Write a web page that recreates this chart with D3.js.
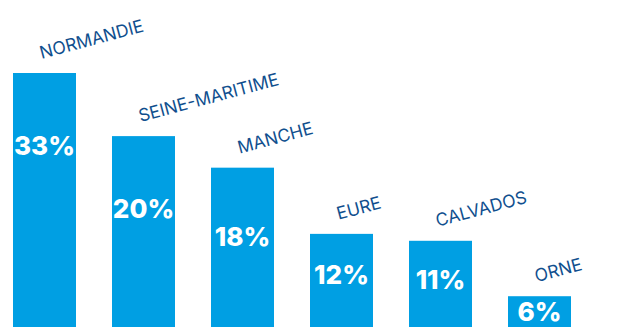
<!DOCTYPE html>
<html>
<head>
<meta charset="utf-8">
<script src="https://cdn.jsdelivr.net/npm/d3@7"></script>
<style>
  html, body { margin: 0; padding: 0; background: #fff; }
  svg { display: block; }
</style>
</head>
<body>
<svg id="chart" width="623" height="327"></svg>
<script>
// Data
const categories = ["NORMANDIE", "SEINE-MARITIME", "MANCHE", "EURE", "CALVADOS", "ORNE"];
const shareLabels = ["33%", "20%", "18%", "12%", "11%", "6%"];
// bar lengths as drawn in the reference (percent-equivalent units)
const barValues = [33, 24.8, 20.7, 12.1, 11.2, 4.0];

const W = 623, H = 327;
const svg = d3.select("#chart");

const x = d3.scaleBand()
  .domain(categories)
  .range([13, 571])
  .paddingInner(36 / 99)
  .paddingOuter(0);

const y = d3.scaleLinear()
  .domain([0, 33])
  .range([H, 73]);

const data = categories.map((c, i) => ({ c, label: shareLabels[i], v: barValues[i] }));

svg.selectAll("rect.bar")
  .data(data)
  .join("rect")
  .attr("class", "bar")
  .attr("x", d => x(d.c))
  .attr("y", d => y(d.v))
  .attr("width", x.bandwidth())
  .attr("height", d => H - y(d.v))
  .attr("fill", "#009fe3");

svg.selectAll("text.val")
  .data(data)
  .join("text")
  .attr("class", "val")
  .attr("x", d => x(d.c) + x.bandwidth() / 2)
  .attr("y", d => {
    const h = H - y(d.v);
    return y(d.v) + Math.min(72, 0.42 * h + 2);
  })
  .attr("text-anchor", "middle")
  .attr("dominant-baseline", "central")
  .attr("fill", "#ffffff")
  .style("font-family", "Inter, 'Open Sans', sans-serif")
  .style("font-weight", "800")
  .style("font-size", "26px")
  .text(d => d.label);

svg.selectAll("text.cat")
  .data(data)
  .join("text")
  .attr("class", "cat")
  .attr("transform", d => {
    const cx = x(d.c) + x.bandwidth() / 2 - 3;
    const cy = y(d.v) - 14;
    return `translate(${cx},${cy}) rotate(-15)`;
  })
  .attr("text-anchor", "start")
  .attr("fill", "#104f8e")
  .style("font-family", "Inter, 'Open Sans', sans-serif")
  .style("font-weight", "400")
  .style("font-size", "17.5px")
  .text(d => d.c);
</script>
</body>
</html>
